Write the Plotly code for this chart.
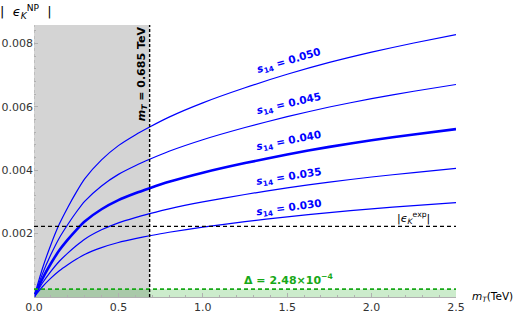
import plotly.graph_objects as go

# ---- data ----
m_T = [0, 0.05, 0.1, 0.15, 0.2, 0.25, 0.3, 0.4, 0.5, 0.6, 0.685, 0.8, 1.0, 1.25, 1.5, 1.75, 2.0, 2.25, 2.5]

eps_s050 = [0, 0.000900, 0.001650, 0.002300, 0.002825, 0.003300, 0.003725, 0.004325, 0.004775, 0.005113,
            0.005363, 0.005675, 0.006125, 0.006600, 0.007025, 0.007400, 0.007725, 0.008013, 0.008275]
eps_s045 = [0, 0.000729, 0.001337, 0.001863, 0.002288, 0.002673, 0.003017, 0.003503, 0.003868, 0.004141,
            0.004344, 0.004597, 0.004961, 0.005346, 0.005690, 0.005994, 0.006257, 0.006490, 0.006703]
eps_s040 = [0, 0.000576, 0.001056, 0.001472, 0.001808, 0.002112, 0.002384, 0.002768, 0.003056, 0.003272,
            0.003432, 0.003632, 0.003920, 0.004224, 0.004496, 0.004736, 0.004944, 0.005128, 0.005296]
eps_s035 = [0, 0.000441, 0.000809, 0.001127, 0.001384, 0.001617, 0.001825, 0.002119, 0.002340, 0.002505,
            0.002628, 0.002781, 0.003001, 0.003234, 0.003442, 0.003626, 0.003785, 0.003926, 0.004055]
eps_s030 = [0, 0.000324, 0.000594, 0.000828, 0.001017, 0.001188, 0.001341, 0.001557, 0.001719, 0.001841,
            0.001931, 0.002043, 0.002205, 0.002376, 0.002529, 0.002664, 0.002781, 0.002885, 0.002979]

series_labels = ["0.050", "0.045", "0.040", "0.035", "0.030"]
label_x = [1.51, 1.51, 1.51, 1.51, 1.51]
label_y = [0.00744, 0.00608, 0.00491, 0.00378, 0.00280]
label_angle = [-16, -13, -11, -9, -8]

eps_exp = 0.002228
delta = 2.48e-4
m_cut = 0.685

x_ticks = [0.0, 0.5, 1.0, 1.5, 2.0, 2.5]
x_ticktext = ["0.0", "0.5", "1.0", "1.5", "2.0", "2.5"]
y_ticks = [0.002, 0.004, 0.006, 0.008]
y_ticktext = ["0.002", "0.004", "0.006", "0.008"]

x_max = 2.5
y_max = 0.00858

BLUE = "#0000ff"
GREEN = "#17a817"
FONT = "DejaVu Sans"

fig = go.Figure()

all_series = [eps_s050, eps_s045, eps_s040, eps_s035, eps_s030]
widths = [1.2, 1.2, 2.6, 1.2, 1.2]
for ys, w in zip(all_series, widths):
    fig.add_trace(go.Scatter(x=m_T, y=ys, mode="lines",
                             line=dict(color=BLUE, width=w, shape="spline", smoothing=0.6),
                             showlegend=False, hoverinfo="skip"))

shapes = [
    dict(type="rect", xref="x", yref="y", x0=0, x1=m_cut, y0=0, y1=y_max,
         fillcolor="#d4d4d4", line=dict(width=0), layer="below"),
    dict(type="rect", xref="x", yref="y", x0=0, x1=x_max, y0=0, y1=delta,
         fillcolor="rgba(0,160,0,0.2)", line=dict(width=0), layer="below"),
    dict(type="line", xref="x", yref="y", x0=0, x1=0, y0=0, y1=y_max,
         line=dict(color="#b0b0b0", width=1.2, dash="3px,3px")),
    dict(type="line", xref="x", yref="y", x0=0, x1=x_max, y0=delta, y1=delta,
         line=dict(color=GREEN, width=1.6, dash="4px,3px")),
    dict(type="line", xref="x", yref="y", x0=0, x1=x_max, y0=eps_exp, y1=eps_exp,
         line=dict(color="black", width=1.4, dash="4px,3px")),
    dict(type="line", xref="x", yref="y", x0=m_cut, x1=m_cut, y0=0, y1=y_max,
         line=dict(color="black", width=1.4, dash="3px,2px")),
]

annotations = []
for lab, lx, ly, ang in zip(series_labels, label_x, label_y, label_angle):
    annotations.append(dict(x=lx, y=ly, xref="x", yref="y",
                            text="<b><i>s</i><sub>14</sub> = " + lab + "</b>",
                            showarrow=False, textangle=ang,
                            font=dict(family=FONT, size=10.5, color=BLUE)))

annotations += [
    dict(x=0.641, y=0.00703, xref="x", yref="y",
         text="<b><i>m</i><sub><i>T</i></sub> = 0.685 TeV</b>",
         showarrow=False, textangle=-90,
         font=dict(family=FONT, size=11, color="black")),
    dict(x=2.248, y=0.00249, xref="x", yref="y",
         text="|<i>ϵ</i><sub><i>K</i></sub><sup>exp</sup>|",
         showarrow=False, font=dict(family=FONT, size=11, color="black")),
    dict(x=1.506, y=0.000556, xref="x", yref="y",
         text="<b>Δ = 2.48×10<sup>−4</sup></b>",
         showarrow=False, font=dict(family=FONT, size=11, color=GREEN)),
    dict(x=0, y=1, xref="paper", yref="paper", xshift=-8, yshift=13,
         text="|  <i>ϵ</i><sub><i>K</i></sub><sup>NP</sup>  |",
         showarrow=False, xanchor="center", yanchor="middle",
         font=dict(family=FONT, size=13, color="black")),
    dict(x=1, y=0, xref="paper", yref="paper", xshift=14, yshift=0,
         text="<i>m</i><sub><i>T</i></sub>(TeV)",
         showarrow=False, xanchor="left", yanchor="middle",
         font=dict(family=FONT, size=10.5, color="black")),
]

fig.update_layout(
    width=519, height=316,
    margin=dict(l=34, r=63, t=25, b=19),
    paper_bgcolor="white", plot_bgcolor="white",
    shapes=shapes, annotations=annotations,
    font=dict(family=FONT, size=11, color="#333333"),
)

fig.update_xaxes(range=[0, x_max], tickvals=x_ticks, ticktext=x_ticktext, automargin=False,
                 showgrid=False, zeroline=False, showline=True, linecolor="#b0b0b0", linewidth=1,
                 ticks="inside", ticklen=4, tickcolor="#b0b0b0",
                 minor=dict(ticks="inside", ticklen=2, dtick=0.1, tick0=0, tickcolor="#b0b0b0"),
                 tickfont=dict(family=FONT, size=11, color="#333333"))
fig.update_yaxes(range=[0, y_max], tickvals=y_ticks, ticktext=y_ticktext, automargin=False,
                 showgrid=False, zeroline=False, showline=False,
                 ticks="inside", ticklen=4, tickcolor="#b0b0b0",
                 minor=dict(ticks="inside", ticklen=2, dtick=0.0004, tick0=0, tickcolor="#b0b0b0"),
                 tickfont=dict(family=FONT, size=11, color="#333333"))

fig.write_html("out.html", config={"displayModeBar": False},
               post_script="document.body.style.margin='0';document.body.style.overflow='hidden';")
